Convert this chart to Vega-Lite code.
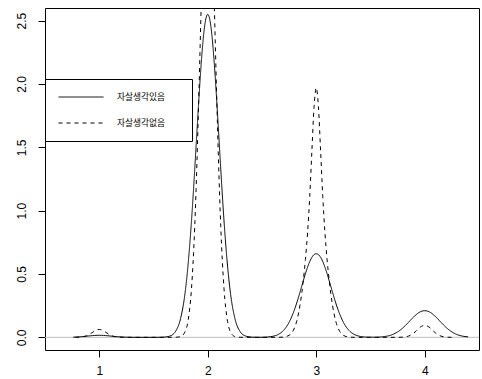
{
  "$schema": "https://vega.github.io/schema/vega-lite/v6.json",
  "width": 434,
  "height": 342,
  "autosize": {"type": "none"},
  "padding": {"left": 45, "top": 8, "right": 3, "bottom": 29},
  "config": {"view": {"stroke": "#000", "strokeWidth": 1}, "font": "Liberation Sans"},
  "datasets": {
    "curves": [
      {"group": "자살생각있음", "x": 0.76, "density": 0.0015},
      {"group": "자살생각있음", "x": 0.79, "density": 0.0026},
      {"group": "자살생각있음", "x": 0.82, "density": 0.0042},
      {"group": "자살생각있음", "x": 0.85, "density": 0.0063},
      {"group": "자살생각있음", "x": 0.88, "density": 0.0088},
      {"group": "자살생각있음", "x": 0.90, "density": 0.0106},
      {"group": "자살생각있음", "x": 0.92, "density": 0.0123},
      {"group": "자살생각있음", "x": 0.94, "density": 0.0138},
      {"group": "자살생각있음", "x": 0.96, "density": 0.0150},
      {"group": "자살생각있음", "x": 0.98, "density": 0.0157},
      {"group": "자살생각있음", "x": 1.00, "density": 0.0160},
      {"group": "자살생각있음", "x": 1.02, "density": 0.0157},
      {"group": "자살생각있음", "x": 1.04, "density": 0.0150},
      {"group": "자살생각있음", "x": 1.06, "density": 0.0138},
      {"group": "자살생각있음", "x": 1.08, "density": 0.0123},
      {"group": "자살생각있음", "x": 1.10, "density": 0.0106},
      {"group": "자살생각있음", "x": 1.12, "density": 0.0088},
      {"group": "자살생각있음", "x": 1.15, "density": 0.0063},
      {"group": "자살생각있음", "x": 1.18, "density": 0.0042},
      {"group": "자살생각있음", "x": 1.21, "density": 0.0026},
      {"group": "자살생각있음", "x": 1.25, "density": 0.0012},
      {"group": "자살생각있음", "x": 1.30, "density": 0.0004},
      {"group": "자살생각있음", "x": 1.35, "density": 0.0001},
      {"group": "자살생각있음", "x": 1.45, "density": 0.0},
      {"group": "자살생각있음", "x": 1.55, "density": 0.0003},
      {"group": "자살생각있음", "x": 1.60, "density": 0.002},
      {"group": "자살생각있음", "x": 1.65, "density": 0.010},
      {"group": "자살생각있음", "x": 1.70, "density": 0.043},
      {"group": "자살생각있음", "x": 1.75, "density": 0.150},
      {"group": "자살생각있음", "x": 1.79, "density": 0.344},
      {"group": "자살생각있음", "x": 1.82, "density": 0.587},
      {"group": "자살생각있음", "x": 1.85, "density": 0.918},
      {"group": "자살생각있음", "x": 1.88, "density": 1.326},
      {"group": "자살생각있음", "x": 1.90, "density": 1.619},
      {"group": "자살생각있음", "x": 1.92, "density": 1.907},
      {"group": "자살생각있음", "x": 1.94, "density": 2.165},
      {"group": "자살생각있음", "x": 1.96, "density": 2.372},
      {"group": "자살생각있음", "x": 1.98, "density": 2.504},
      {"group": "자살생각있음", "x": 2.00, "density": 2.550},
      {"group": "자살생각있음", "x": 2.02, "density": 2.504},
      {"group": "자살생각있음", "x": 2.04, "density": 2.372},
      {"group": "자살생각있음", "x": 2.06, "density": 2.165},
      {"group": "자살생각있음", "x": 2.08, "density": 1.907},
      {"group": "자살생각있음", "x": 2.10, "density": 1.619},
      {"group": "자살생각있음", "x": 2.12, "density": 1.326},
      {"group": "자살생각있음", "x": 2.15, "density": 0.918},
      {"group": "자살생각있음", "x": 2.18, "density": 0.587},
      {"group": "자살생각있음", "x": 2.21, "density": 0.344},
      {"group": "자살생각있음", "x": 2.25, "density": 0.150},
      {"group": "자살생각있음", "x": 2.30, "density": 0.043},
      {"group": "자살생각있음", "x": 2.35, "density": 0.010},
      {"group": "자살생각있음", "x": 2.40, "density": 0.002},
      {"group": "자살생각있음", "x": 2.45, "density": 0.0005},
      {"group": "자살생각있음", "x": 2.50, "density": 0.0007},
      {"group": "자살생각있음", "x": 2.55, "density": 0.0025},
      {"group": "자살생각있음", "x": 2.60, "density": 0.0082},
      {"group": "자살생각있음", "x": 2.65, "density": 0.023},
      {"group": "자살생각있음", "x": 2.70, "density": 0.056},
      {"group": "자살생각있음", "x": 2.75, "density": 0.119},
      {"group": "자살생각있음", "x": 2.79, "density": 0.197},
      {"group": "자살생각있음", "x": 2.82, "density": 0.271},
      {"group": "자살생각있음", "x": 2.85, "density": 0.356},
      {"group": "자살생각있음", "x": 2.88, "density": 0.445},
      {"group": "자살생각있음", "x": 2.90, "density": 0.502},
      {"group": "자살생각있음", "x": 2.92, "density": 0.554},
      {"group": "자살생각있음", "x": 2.94, "density": 0.598},
      {"group": "자살생각있음", "x": 2.96, "density": 0.632},
      {"group": "자살생각있음", "x": 2.98, "density": 0.653},
      {"group": "자살생각있음", "x": 3.00, "density": 0.660},
      {"group": "자살생각있음", "x": 3.02, "density": 0.653},
      {"group": "자살생각있음", "x": 3.04, "density": 0.632},
      {"group": "자살생각있음", "x": 3.06, "density": 0.598},
      {"group": "자살생각있음", "x": 3.08, "density": 0.554},
      {"group": "자살생각있음", "x": 3.10, "density": 0.502},
      {"group": "자살생각있음", "x": 3.12, "density": 0.445},
      {"group": "자살생각있음", "x": 3.15, "density": 0.356},
      {"group": "자살생각있음", "x": 3.18, "density": 0.271},
      {"group": "자살생각있음", "x": 3.21, "density": 0.197},
      {"group": "자살생각있음", "x": 3.25, "density": 0.119},
      {"group": "자살생각있음", "x": 3.30, "density": 0.056},
      {"group": "자살생각있음", "x": 3.35, "density": 0.023},
      {"group": "자살생각있음", "x": 3.40, "density": 0.0082},
      {"group": "자살생각있음", "x": 3.45, "density": 0.0025},
      {"group": "자살생각있음", "x": 3.50, "density": 0.0012},
      {"group": "자살생각있음", "x": 3.55, "density": 0.0012},
      {"group": "자살생각있음", "x": 3.60, "density": 0.0036},
      {"group": "자살생각있음", "x": 3.65, "density": 0.0092},
      {"group": "자살생각있음", "x": 3.70, "density": 0.021},
      {"group": "자살생각있음", "x": 3.75, "density": 0.043},
      {"group": "자살생각있음", "x": 3.79, "density": 0.068},
      {"group": "자살생각있음", "x": 3.82, "density": 0.092},
      {"group": "자살생각있음", "x": 3.85, "density": 0.118},
      {"group": "자살생각있음", "x": 3.88, "density": 0.146},
      {"group": "자살생각있음", "x": 3.90, "density": 0.163},
      {"group": "자살생각있음", "x": 3.92, "density": 0.178},
      {"group": "자살생각있음", "x": 3.94, "density": 0.192},
      {"group": "자살생각있음", "x": 3.96, "density": 0.202},
      {"group": "자살생각있음", "x": 3.98, "density": 0.208},
      {"group": "자살생각있음", "x": 4.00, "density": 0.210},
      {"group": "자살생각있음", "x": 4.02, "density": 0.208},
      {"group": "자살생각있음", "x": 4.04, "density": 0.202},
      {"group": "자살생각있음", "x": 4.06, "density": 0.192},
      {"group": "자살생각있음", "x": 4.08, "density": 0.178},
      {"group": "자살생각있음", "x": 4.10, "density": 0.163},
      {"group": "자살생각있음", "x": 4.12, "density": 0.146},
      {"group": "자살생각있음", "x": 4.15, "density": 0.118},
      {"group": "자살생각있음", "x": 4.18, "density": 0.092},
      {"group": "자살생각있음", "x": 4.21, "density": 0.068},
      {"group": "자살생각있음", "x": 4.25, "density": 0.043},
      {"group": "자살생각있음", "x": 4.30, "density": 0.021},
      {"group": "자살생각있음", "x": 4.35, "density": 0.0092},
      {"group": "자살생각있음", "x": 4.40, "density": 0.0036},

      {"group": "자살생각없음", "x": 0.78, "density": 0.0002},
      {"group": "자살생각없음", "x": 0.82, "density": 0.0013},
      {"group": "자살생각없음", "x": 0.85, "density": 0.0043},
      {"group": "자살생각없음", "x": 0.88, "density": 0.011},
      {"group": "자살생각없음", "x": 0.90, "density": 0.019},
      {"group": "자살생각없음", "x": 0.92, "density": 0.029},
      {"group": "자살생각없음", "x": 0.94, "density": 0.040},
      {"group": "자살생각없음", "x": 0.96, "density": 0.051},
      {"group": "자살생각없음", "x": 0.98, "density": 0.059},
      {"group": "자살생각없음", "x": 1.00, "density": 0.062},
      {"group": "자살생각없음", "x": 1.02, "density": 0.059},
      {"group": "자살생각없음", "x": 1.04, "density": 0.051},
      {"group": "자살생각없음", "x": 1.06, "density": 0.040},
      {"group": "자살생각없음", "x": 1.08, "density": 0.029},
      {"group": "자살생각없음", "x": 1.10, "density": 0.019},
      {"group": "자살생각없음", "x": 1.12, "density": 0.011},
      {"group": "자살생각없음", "x": 1.15, "density": 0.0043},
      {"group": "자살생각없음", "x": 1.18, "density": 0.0013},
      {"group": "자살생각없음", "x": 1.21, "density": 0.0003},
      {"group": "자살생각없음", "x": 1.25, "density": 0.0},
      {"group": "자살생각없음", "x": 1.50, "density": 0.0},
      {"group": "자살생각없음", "x": 1.65, "density": 0.0},
      {"group": "자살생각없음", "x": 1.70, "density": 0.0004},
      {"group": "자살생각없음", "x": 1.75, "density": 0.0064},
      {"group": "자살생각없음", "x": 1.79, "density": 0.042},
      {"group": "자살생각없음", "x": 1.82, "density": 0.139},
      {"group": "자살생각없음", "x": 1.85, "density": 0.383},
      {"group": "자살생각없음", "x": 1.88, "density": 0.874},
      {"group": "자살생각없음", "x": 1.90, "density": 1.370},
      {"group": "자살생각없음", "x": 1.92, "density": 1.977},
      {"group": "자살생각없음", "x": 1.94, "density": 2.632},
      {"group": "자살생각없음", "x": 1.96, "density": 3.228},
      {"group": "자살생각없음", "x": 1.98, "density": 3.648},
      {"group": "자살생각없음", "x": 2.00, "density": 3.800},
      {"group": "자살생각없음", "x": 2.02, "density": 3.648},
      {"group": "자살생각없음", "x": 2.04, "density": 3.228},
      {"group": "자살생각없음", "x": 2.06, "density": 2.632},
      {"group": "자살생각없음", "x": 2.08, "density": 1.977},
      {"group": "자살생각없음", "x": 2.10, "density": 1.370},
      {"group": "자살생각없음", "x": 2.12, "density": 0.874},
      {"group": "자살생각없음", "x": 2.15, "density": 0.383},
      {"group": "자살생각없음", "x": 2.18, "density": 0.139},
      {"group": "자살생각없음", "x": 2.21, "density": 0.042},
      {"group": "자살생각없음", "x": 2.25, "density": 0.0064},
      {"group": "자살생각없음", "x": 2.30, "density": 0.0004},
      {"group": "자살생각없음", "x": 2.35, "density": 0.0},
      {"group": "자살생각없음", "x": 2.50, "density": 0.0},
      {"group": "자살생각없음", "x": 2.65, "density": 0.0},
      {"group": "자살생각없음", "x": 2.70, "density": 0.0024},
      {"group": "자살생각없음", "x": 2.75, "density": 0.016},
      {"group": "자살생각없음", "x": 2.79, "density": 0.057},
      {"group": "자살생각없음", "x": 2.82, "density": 0.127},
      {"group": "자살생각없음", "x": 2.85, "density": 0.253},
      {"group": "자살생각없음", "x": 2.88, "density": 0.445},
      {"group": "자살생각없음", "x": 2.90, "density": 0.613},
      {"group": "자살생각없음", "x": 2.92, "density": 0.827},
      {"group": "자살생각없음", "x": 2.94, "density": 1.112},
      {"group": "자살생각없음", "x": 2.96, "density": 1.475},
      {"group": "자살생각없음", "x": 2.98, "density": 1.821},
      {"group": "자살생각없음", "x": 3.00, "density": 1.970},
      {"group": "자살생각없음", "x": 3.02, "density": 1.821},
      {"group": "자살생각없음", "x": 3.04, "density": 1.475},
      {"group": "자살생각없음", "x": 3.06, "density": 1.112},
      {"group": "자살생각없음", "x": 3.08, "density": 0.827},
      {"group": "자살생각없음", "x": 3.10, "density": 0.613},
      {"group": "자살생각없음", "x": 3.12, "density": 0.445},
      {"group": "자살생각없음", "x": 3.15, "density": 0.253},
      {"group": "자살생각없음", "x": 3.18, "density": 0.127},
      {"group": "자살생각없음", "x": 3.21, "density": 0.057},
      {"group": "자살생각없음", "x": 3.25, "density": 0.016},
      {"group": "자살생각없음", "x": 3.30, "density": 0.0024},
      {"group": "자살생각없음", "x": 3.35, "density": 0.0},
      {"group": "자살생각없음", "x": 3.50, "density": 0.0},
      {"group": "자살생각없음", "x": 3.75, "density": 0.0002},
      {"group": "자살생각없음", "x": 3.79, "density": 0.0011},
      {"group": "자살생각없음", "x": 3.82, "density": 0.0035},
      {"group": "자살생각없음", "x": 3.85, "density": 0.0096},
      {"group": "자살생각없음", "x": 3.88, "density": 0.022},
      {"group": "자살생각없음", "x": 3.90, "density": 0.034},
      {"group": "자살생각없음", "x": 3.92, "density": 0.049},
      {"group": "자살생각없음", "x": 3.94, "density": 0.066},
      {"group": "자살생각없음", "x": 3.96, "density": 0.081},
      {"group": "자살생각없음", "x": 3.98, "density": 0.091},
      {"group": "자살생각없음", "x": 4.00, "density": 0.095},
      {"group": "자살생각없음", "x": 4.02, "density": 0.091},
      {"group": "자살생각없음", "x": 4.04, "density": 0.081},
      {"group": "자살생각없음", "x": 4.06, "density": 0.066},
      {"group": "자살생각없음", "x": 4.08, "density": 0.049},
      {"group": "자살생각없음", "x": 4.10, "density": 0.034},
      {"group": "자살생각없음", "x": 4.12, "density": 0.022},
      {"group": "자살생각없음", "x": 4.15, "density": 0.0096},
      {"group": "자살생각없음", "x": 4.18, "density": 0.0035},
      {"group": "자살생각없음", "x": 4.21, "density": 0.0011},
      {"group": "자살생각없음", "x": 4.25, "density": 0.0002}
    ]
  },
  "layer": [
    {
      "data": {"values": [{}]},
      "mark": {"type": "rule", "color": "#bebebe", "strokeWidth": 1},
      "encoding": {
        "y": {"datum": 0, "type": "quantitative"}
      }
    },
    {
      "data": {"name": "curves"},
      "mark": {"type": "line", "clip": true, "interpolate": "monotone", "color": "#000", "strokeWidth": 1},
      "encoding": {
        "x": {
          "field": "x", "type": "quantitative",
          "scale": {"domain": [0.5, 4.5], "nice": false, "zero": false},
          "axis": {"values": [1, 2, 3, 4], "title": null, "domain": false, "grid": false, "tickSize": 7, "tickColor": "#000", "labelFontSize": 12, "labelColor": "#000", "labelPadding": 8, "labelFlush": false, "labelOverlap": false}
        },
        "y": {
          "field": "density", "type": "quantitative",
          "scale": {"domain": [-0.1, 2.6], "nice": false, "zero": false},
          "axis": {"values": [0, 0.5, 1, 1.5, 2, 2.5], "format": ".1f", "title": null, "domain": false, "grid": false, "tickSize": 7, "tickColor": "#000", "labelFontSize": 12, "labelColor": "#000", "labelAngle": 270, "labelAlign": "center", "labelBaseline": "bottom", "labelPadding": 10, "labelFlush": false, "labelOverlap": false}
        },
        "strokeDash": {
          "field": "group", "type": "nominal",
          "scale": {"domain": ["자살생각있음", "자살생각없음"], "range": [[1, 0], [4, 4]]},
          "legend": {
            "title": " ", "titleOrient": "right", "titleFontSize": 10, "titlePadding": 14,
            "orient": "none", "legendX": 0, "legendY": 71,
            "padding": 13, "strokeColor": "#000", "fillColor": "#fff",
            "symbolType": "stroke", "symbolSize": 2025, "symbolStrokeWidth": 1, "symbolStrokeColor": "#000",
            "clipHeight": 10, "rowPadding": 16, "labelOffset": 13,
            "labelFont": "Noto Sans CJK KR", "labelFontSize": 8.7, "labelColor": "#000"
          }
        }
      }
    }
  ]
}
